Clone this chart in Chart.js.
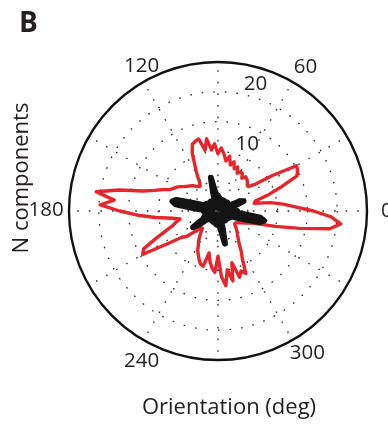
<!DOCTYPE html>
<html>
<head>
<meta charset="utf-8">
<script src="https://cdn.jsdelivr.net/npm/chart.js@4.4.1/dist/chart.umd.min.js"></script>
<style>
  html, body { margin: 0; padding: 0; background: #ffffff; }
  #wrap { position: relative; width: 388px; height: 428px; }
  canvas { display: block; }
</style>
</head>
<body>
<div id="wrap"><canvas id="polar" width="388" height="428"></canvas></div>
<script>
// Orientation bins (deg), 3-degree steps, counter-clockwise from the right
const angleStep = 3;
const orientations = Array.from({ length: 120 }, (_, i) => i * angleStep);

// Number of components per orientation bin (red trace)
const redCounts = [
  16.0, 13.0, 11.0, 9.0, 6.2, 6.5, 9.0, 11.5, 14.5, 15.0,      //   0 -  27
  15.2, 11.0, 7.5, 6.5, 6.6, 7.0, 7.2, 7.4, 6.8, 7.5,          //  30 -  57
  7.6, 7.1, 8.1, 7.6, 8.7, 8.0, 9.4, 8.5, 9.6, 10.6,           //  60 -  87
  9.6, 11.3, 10.3, 12.3, 10.4, 12.5, 12.3, 12.0, 10.6, 8.5,    //  90 - 117
  7.0, 5.6, 5.1, 5.3, 5.6, 6.0, 6.3, 6.6, 7.0, 7.5,            // 120 - 147
  8.0, 8.4, 8.8, 10.0, 11.2, 13.0, 17.0, 20.7, 17.5, 19.8,     // 150 - 177
  16.5, 13.5, 10.5, 7.8, 6.5, 7.3, 8.0, 9.5, 11.5, 14.0,       // 180 - 207
  14.6, 10.0, 7.5, 6.8, 5.0, 4.2, 3.9, 4.5, 5.2, 6.0,          // 210 - 237
  6.6, 7.5, 8.1, 8.8, 9.4, 9.6, 7.2, 8.6, 9.6, 10.3,           // 240 - 267
  7.6, 11.0, 12.6, 10.0, 12.0, 9.0, 11.7, 10.8, 11.5, 9.0,     // 270 - 297
  7.8, 6.5, 5.8, 5.2, 4.8, 4.4, 4.0, 3.6, 3.5, 3.6,            // 300 - 327
  3.9, 4.4, 5.0, 5.5, 7.0, 10.0, 14.0, 19.0, 20.7, 19.0        // 330 - 357
];

// Number of components per orientation bin (black trace)
const blackCounts = [
  3.2, 1.2, 2.0, 0.8, 1.8, 1.0, 3.0, 4.6, 4.0, 1.5,            //   0 -  27
  2.0, 0.7, 1.8, 0.9, 2.1, 0.8, 1.7, 0.6, 1.9, 1.0,            //  30 -  57
  2.0, 0.8, 1.6, 0.9, 2.0, 1.1, 1.8, 0.8, 2.2, 1.3,            //  60 -  87
  2.6, 1.5, 2.8, 3.4, 5.7, 3.2, 1.4, 2.0, 0.8, 1.7,            //  90 - 117
  0.7, 1.8, 0.9, 2.0, 1.0, 1.9, 0.8, 2.0, 1.2, 2.2,            // 120 - 147
  1.4, 2.4, 2.0, 2.8, 4.2, 7.2, 7.8, 7.2, 3.6, 1.6,            // 150 - 177
  2.4, 1.0, 2.0, 0.9, 2.2, 1.1, 2.0, 1.4, 2.6, 2.2,            // 180 - 207
  3.4, 5.0, 3.8, 1.5, 2.0, 0.8, 1.8, 0.7, 1.9, 0.9,            // 210 - 237
  1.8, 0.8, 2.0, 1.0, 1.9, 0.9, 2.1, 1.2, 2.3, 1.4,            // 240 - 267
  2.4, 1.6, 2.6, 3.4, 5.6, 3.2, 1.4, 2.0, 0.8, 1.8,            // 270 - 297
  0.7, 1.9, 0.9, 2.0, 1.0, 1.8, 0.8, 2.0, 1.1, 2.1,            // 300 - 327
  1.3, 2.3, 1.8, 2.8, 4.2, 7.2, 7.9, 7.2, 3.8, 1.8             // 330 - 357
];

// Axis annotations
const angleTickLabels = [0, 60, 120, 180, 240, 300];
const radiusTickLabels = [10, 20];
const radiusMax = 25;
const radiusStep = 5;

const nBins = orientations.length;
// The radial scale runs clockwise from its start angle; walk the bins backwards
// so orientation grows counter-clockwise with 0 deg on the right.
const binAt = (i) => (nBins - i) % nBins;
const chartLabels = orientations.map((_, i) => orientations[binAt(i)]);
const reorder = (arr) => arr.map((_, i) => arr[binAt(i)]);

const FONT = '"Open Sans", "Noto Sans", sans-serif';
const INK = '#231f20';
// small hand nudges for the angle labels (px)
const angleLabelNudge = { 0: [2, 0], 60: [4, 1], 120: [7, 0], 180: [-5, -1], 240: [7, 6], 300: [6, -2] };

const annotations = {
  id: 'polarAnnotations',
  afterDraw(chart) {
    const r = chart.scales.r;
    const ctx = chart.ctx;
    ctx.save();
    ctx.fillStyle = INK;

    // angle labels just outside the outer ring
    ctx.font = '20.5px ' + FONT;
    ctx.textAlign = 'center';
    ctx.textBaseline = 'middle';
    angleTickLabels.forEach((deg) => {
      const idx = binAt(deg / angleStep);
      const p = r.getPointPosition(idx, r.drawingArea * 1.12);
      const [nx, ny] = angleLabelNudge[deg];
      ctx.fillText(String(deg), p.x + nx, p.y + ny);
    });

    // ring values along the 82 deg ray
    ctx.textAlign = 'left';
    ctx.textBaseline = 'alphabetic';
    const a = 82 * Math.PI / 180;
    radiusTickLabels.forEach((v) => {
      const d = r.getDistanceFromCenterForValue(v + 0.25);
      ctx.fillText(String(v), r.xCenter + d * Math.cos(a) + 9, r.yCenter - d * Math.sin(a) - 1);
    });

    // axis titles
    ctx.font = '22px ' + FONT;
    ctx.textAlign = 'center';
    ctx.fillText('Orientation (deg)', 229, 414);

    ctx.save();
    ctx.translate(28, 178);
    ctx.rotate(-Math.PI / 2);
    ctx.fillText('N components', 0, 0);
    ctx.restore();

    // panel letter
    ctx.font = 'bold 28px ' + FONT;
    ctx.textAlign = 'left';
    ctx.fillText('B', 19, 32);
    ctx.restore();
  }
};

new Chart(document.getElementById('polar'), {
  type: 'radar',
  data: {
    labels: chartLabels,
    datasets: [
      {
        label: 'black',
        data: reorder(blackCounts),
        borderColor: '#141414',
        borderWidth: 6,
        fill: false,
        pointRadius: 0,
        tension: 0,
        borderJoinStyle: 'round',
        borderCapStyle: 'round'
      },
      {
        label: 'red',
        data: reorder(redCounts),
        borderColor: '#e5272d',
        borderWidth: 3.4,
        fill: false,
        pointRadius: 0,
        tension: 0,
        borderJoinStyle: 'round',
        borderCapStyle: 'round'
      }
    ]
  },
  options: {
    responsive: false,
    animation: false,
    devicePixelRatio: 1,
    layout: { padding: { left: 69, right: 21, top: 62, bottom: 68 } },
    plugins: {
      legend: { display: false },
      title: { display: false },
      tooltip: { enabled: false }
    },
    scales: {
      r: {
        min: 0,
        max: radiusMax,
        startAngle: 90,
        ticks: { display: false, stepSize: radiusStep },
        pointLabels: { display: false },
        grid: {
          circular: true,
          color: (c) => (c.tick && c.tick.value === radiusMax ? '#111111' : '#2a2a2a'),
          lineWidth: (c) => (c.tick && c.tick.value === radiusMax ? 2.4 : 1.3)
        },
        border: {
          dash: (c) => (c.tick && c.tick.value === radiusMax ? [] : [1.6, 10]),
          dashOffset: 0
        },
        angleLines: {
          display: true,
          color: '#2a2a2a',
          lineWidth: (c) => (c.index % 10 === 0 ? 1.3 : 0),
          borderDash: [1.6, 10]
        }
      }
    }
  },
  plugins: [annotations]
});
</script>
</body>
</html>
